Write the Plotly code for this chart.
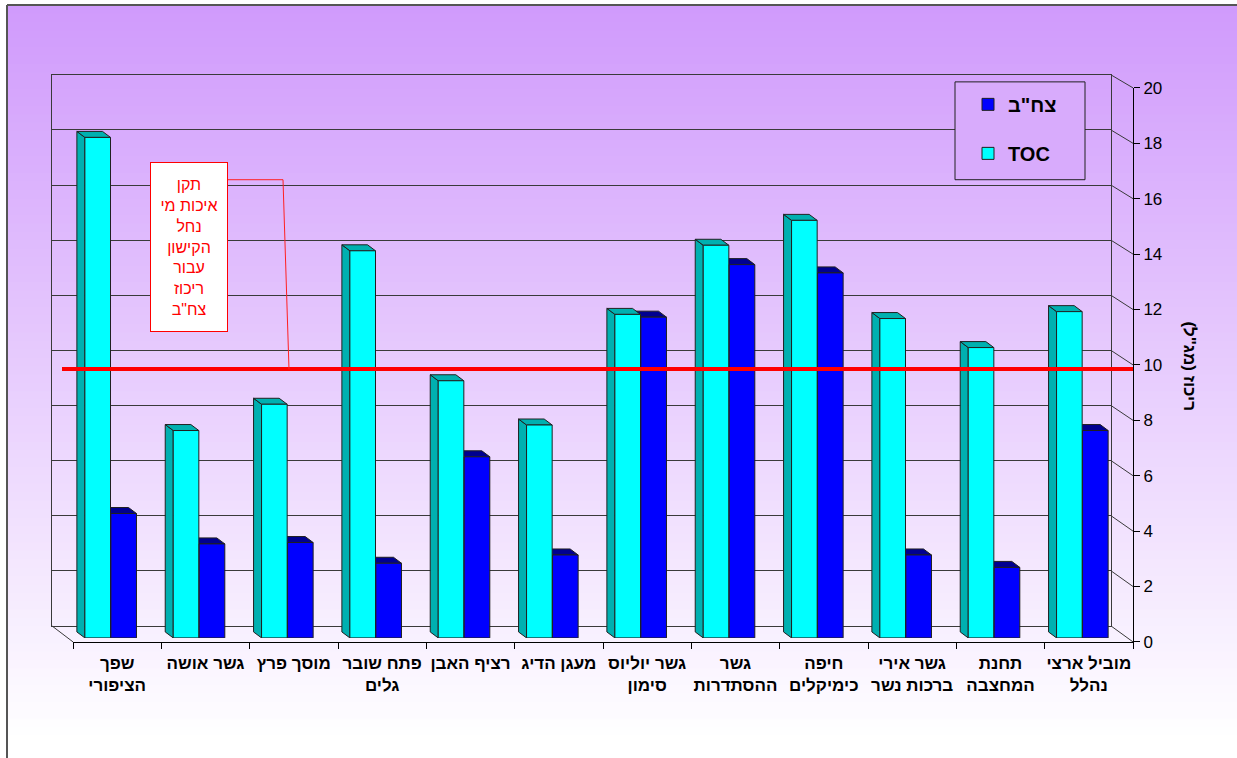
import plotly.graph_objects as go

W, H = 1237, 758

stations = [
    "שפך<br>הציפורי", "גשר אושה", "מוסך פרץ", "פתח שובר<br>גלים",
    "רציף האבן", "מעגן הדיג", "גשר יוליוס<br>סימון", "גשר<br>ההסתדרות",
    "חיפה<br>כימיקלים", "גשר אירי<br>ברכות נשר", "תחנת<br>המחצבה", "מוביל ארצי<br>נהלל",
]
toc = [18.1, 7.5, 8.45, 14.0, 9.3, 7.7, 11.7, 14.2, 15.1, 11.55, 10.5, 11.8]
bod = [4.5, 3.4, 3.45, 2.7, 6.55, 3.0, 11.6, 13.5, 13.2, 3.0, 2.55, 7.5]
standard = 9.85
y_ticks = list(range(0, 21, 2))

FONT = "Liberation Sans, Arial, sans-serif"

# the page shows the figure slightly squeezed vertically (7px top offset, 0.9766 scale),
# so positions below are given in screen pixels and converted here
SY0, SK = 7, 0.9766


def fx(x):
    return x / W


def fy(y):
    return 1 - (y - SY0) / (SK * H)


# pseudo 3d box (screen px): back wall, bar plane, front plane
BACK = (52, 1111, 625, 73)
PLANE = (67.75, 1127.75, 637, 83)
FRONT = (73, 1133, 641, 86)
DX, DY = -8, 6  # depth of a column in px
cat_px = (PLANE[1] - PLANE[0]) / len(stations)
unit_px = (PLANE[2] - PLANE[3]) / 20
dxu, dyu = DX / cat_px, DY / unit_px

shapes = []

# background gradient
n = 90
top_c, bot_c = (208, 154, 252), (255, 255, 255)
for k in range(n):
    ya = 3 + (760 - 3) * k / n
    yb = 3 + (760 - 3) * (k + 1) / n
    t = min(1.0, ((ya + yb) / 2 - 3) / 737)
    c = tuple(int(round(a + (b - a) * t)) for a, b in zip(top_c, bot_c))
    shapes.append(dict(type="rect", xref="paper", yref="paper", layer="below",
                       x0=fx(7), x1=1, y0=fy(yb) - 0.002, y1=fy(ya),
                       fillcolor="rgb(%d,%d,%d)" % c, line=dict(width=0)))
for x0, y0, x1, y1 in [(7, 3, 7, 760), (7, 3, W, 3)]:
    shapes.append(dict(type="line", xref="paper", yref="paper", layer="below",
                       x0=fx(x0), x1=fx(x1), y0=fy(y0), y1=fy(y1),
                       line=dict(color="#555555", width=2)))

# right connectors between back wall and front axis, floor edges
wall = "#3a3a3a"
for v in y_ticks:
    yb = BACK[2] - (BACK[2] - BACK[3]) * v / 20
    yf = FRONT[2] - (FRONT[2] - FRONT[3]) * v / 20
    shapes.append(dict(type="line", xref="paper", yref="paper", layer="below",
                       x0=fx(BACK[1]), x1=fx(FRONT[1]), y0=fy(yb), y1=fy(yf),
                       line=dict(color=wall, width=1)))
shapes.append(dict(type="line", xref="paper", yref="paper", layer="below",
                   x0=fx(BACK[0]), x1=fx(FRONT[0]), y0=fy(BACK[2]), y1=fy(FRONT[2]),
                   line=dict(color=wall, width=1)))


def faces(values, offset, width, color):
    out = []
    for i, v in enumerate(values):
        xl = i + offset
        xr = xl + width
        left = f"M{xl},0 L{xl},{v} L{xl + dxu},{v + dyu} L{xl + dxu},{dyu} Z"
        top = f"M{xl},{v} L{xr},{v} L{xr + dxu},{v + dyu} L{xl + dxu},{v + dyu} Z"
        for p in (left, top):
            out.append(dict(type="path", path=p, xref="x2", yref="y2", layer="below",
                            fillcolor=color, line=dict(color="#202020", width=1)))
    return out


TOC_OFF, BOD_OFF, BW = -0.306, -0.012, 0.29
shapes += faces(bod, BOD_OFF, BW, "#000090")
shapes += faces(toc, TOC_OFF, BW, "#00b0b0")

# standard line + callout
shapes.append(dict(type="line", xref="paper", yref="y3", layer="above",
                   x0=fx(62), x1=fx(FRONT[1]), y0=standard, y1=standard,
                   line=dict(color="#ff0000", width=4)))
shapes.append(dict(type="path", xref="paper", yref="paper", layer="above",
                   path=f"M{fx(228)},{fy(178)} L{fx(283)},{fy(178)} L{fx(289)},{fy(368)}",
                   line=dict(color="#ff2020", width=1)))
# legend frame
shapes.append(dict(type="rect", xref="paper", yref="paper", layer="above",
                   x0=fx(955), x1=fx(1085), y0=fy(178), y1=fy(80),
                   fillcolor="rgb(216,171,252)", line=dict(color="#202020", width=1)))

idx = list(range(len(stations)))

fig = go.Figure()
fig.add_trace(go.Scatter(x=[], y=[], xaxis="x", yaxis="y", showlegend=False, hoverinfo="skip"))
fig.add_trace(go.Bar(
    x=idx, y=toc, offset=TOC_OFF, width=BW, name="TOC", legendgroup="toc", legendrank=2,
    marker=dict(color="#00ffff", line=dict(color="#202020", width=1)),
    xaxis="x2", yaxis="y2", hoverinfo="skip",
))
fig.add_trace(go.Bar(
    x=idx, y=bod, offset=BOD_OFF, width=BW, name="צח\"ב", legendgroup="bod", legendrank=1,
    marker=dict(color="#0000ff", line=dict(color="#202020", width=1)),
    xaxis="x2", yaxis="y2", hoverinfo="skip",
))
fig.add_trace(go.Scatter(x=stations, y=toc, mode="markers", marker=dict(opacity=0),
                         xaxis="x3", yaxis="y3", showlegend=False, hoverinfo="skip"))

fig.update_layout(
    width=W, height=H, autosize=False,
    margin=dict(l=0, r=0, t=0, b=0),
    paper_bgcolor="white", plot_bgcolor="rgba(0,0,0,0)",
    font=dict(family=FONT, color="black"),
    barmode="overlay", hovermode=False,
    shapes=shapes,
    xaxis=dict(domain=[fx(BACK[0]), fx(BACK[1])], range=[0, 1], anchor="y",
               showgrid=False, zeroline=False, showticklabels=False, ticks="",
               showline=True, mirror=True, linecolor=wall, linewidth=1),
    yaxis=dict(domain=[fy(BACK[2]), fy(BACK[3])], range=[0, 20], dtick=2, anchor="x",
               showgrid=True, gridcolor=wall, gridwidth=1, zeroline=False,
               showticklabels=False, ticks="",
               showline=True, mirror=True, linecolor=wall, linewidth=1),
    xaxis2=dict(domain=[fx(PLANE[0]), fx(PLANE[1])], range=[-0.5, 11.5], anchor="y2",
                visible=False),
    yaxis2=dict(domain=[fy(PLANE[2]), fy(PLANE[3])], range=[0, 20], anchor="x2",
                visible=False),
    xaxis3=dict(domain=[fx(FRONT[0]), fx(FRONT[1])], type="category",
                categoryorder="array", categoryarray=stations, range=[-0.5, 11.5],
                anchor="y3", showgrid=False, zeroline=False,
                showline=True, linecolor="black", linewidth=1,
                ticks="outside", ticklen=6, tickcolor="black", tickson="boundaries",
                ticklabelstandoff=6, tickangle=0,
                tickfont=dict(family=FONT, size=17, color="black", weight="bold")),
    yaxis3=dict(domain=[fy(FRONT[2]), fy(FRONT[3])], range=[0, 20], dtick=2,
                anchor="x3", side="right", showgrid=False, zeroline=False,
                showline=True, linecolor="black", linewidth=1,
                ticks="outside", ticklen=6, tickcolor="black",
                tickfont=dict(family=FONT, size=17, color="black")),
    legend=dict(x=fx(968), y=fy(83), xanchor="left", yanchor="top",
                bgcolor="rgba(0,0,0,0)", borderwidth=0,
                traceorder="grouped", tracegroupgap=20,
                font=dict(family=FONT, size=20, color="black", weight="bold")),
    annotations=[
        dict(xref="paper", yref="paper", x=fx(189), y=fy(245), showarrow=False,
             xanchor="center", yanchor="middle",
             text="תקן<br>איכות מי<br>נחל<br>הקישון<br>עבור<br>ריכוז<br>צח\"ב",
             font=dict(family=FONT, size=16, color="#ff0000"), align="center",
             bgcolor="white", bordercolor="#ff0000", borderwidth=1,
             width=74, height=166),
        dict(xref="paper", yref="paper", x=fx(1190), y=fy(365), showarrow=False,
             xanchor="center", yanchor="middle",
             text="ריכוז (מג\"ל)", textangle=90,
             font=dict(family=FONT, size=17, color="black", weight="bold")),
    ],
)

fig.write_html(
    "out.html",
    config={"displayModeBar": False},
    post_script=(
        "document.body.style.margin='0px';document.body.style.overflow='hidden';"
        "var d=document.getElementById('{plot_id}');"
        "d.style.position='fixed';d.style.top='0px';d.style.left='0px';"
    ),
)
